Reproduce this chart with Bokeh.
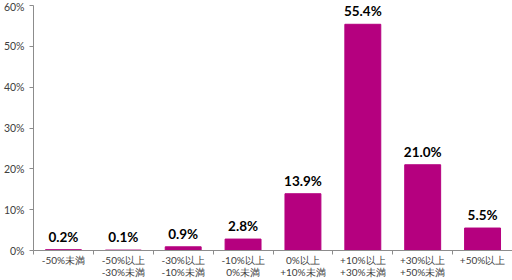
from bokeh.plotting import figure
from bokeh.models import Range1d, FixedTicker, ColumnDataSource
from bokeh.core.properties import value
from bokeh.embed import file_html
from bokeh.resources import INLINE

categories = ["-50%未満", "-50%以上\n-30%未満", "-30%以上\n-10%未満", "-10%以上\n0%未満",
              "0%以上\n+10%未満", "+10%以上\n+30%未満", "+30%以上\n+50%未満", "+50%以上"]
shares = [0.2, 0.1, 0.9, 2.8, 13.9, 55.4, 21.0, 5.5]
y_ticks = [0, 10, 20, 30, 40, 50, 60]

xs = [i + 0.5 for i in range(len(categories))]
src = ColumnDataSource(dict(x=xs, top=shares, label=[f"{v:.1f}%" for v in shares]))

FONT = "Lato"
BAR = "#B5007F"
AX = "#8C8C8C"

p = figure(width=512, height=280, output_backend="svg", toolbar_location=None,
           x_range=Range1d(0, len(categories)), y_range=Range1d(0, 60),
           min_border_left=32, min_border_right=0, min_border_top=5, min_border_bottom=30)
p.outline_line_color = None
p.grid.visible = False
p.background_fill_color = "white"
p.border_fill_color = "white"

p.vbar(x="x", top="top", width=0.6, bottom=0, source=src, fill_color=BAR,
       line_color=BAR, line_width=1)
p.text(x="x", y="top", text="label", source=src, y_offset=-5,
       text_align="center", text_baseline="bottom",
       text_font=value("Lato"), text_font_style="bold", text_font_size="13.5px", text_color="black")

xa = p.xaxis[0]
xa.ticker = FixedTicker(ticks=xs, minor_ticks=list(range(len(categories) + 1)))
xa.major_label_overrides = {x: c for x, c in zip(xs, categories)}
xa.major_tick_line_color = None
xa.major_tick_out = 0
xa.major_tick_in = 0
xa.minor_tick_out = 4
xa.minor_tick_in = 0
xa.minor_tick_line_color = AX
xa.axis_line_color = AX
xa.major_label_standoff = -1
xa.major_label_text_font = FONT
xa.major_label_text_font_size = "10px"
xa.major_label_text_line_height = 1.0
xa.major_label_text_color = "#404040"

ya = p.yaxis[0]
ya.ticker = FixedTicker(ticks=y_ticks)
ya.major_label_overrides = {t: f"{t}%" for t in y_ticks}
ya.minor_tick_line_color = None
ya.major_tick_out = 4
ya.major_tick_in = 0
ya.major_tick_line_color = AX
ya.axis_line_color = AX
ya.major_label_standoff = 5
ya.major_label_text_font = FONT
ya.major_label_text_font_size = "10.5px"
ya.major_label_text_color = "#404040"

open("out.html", "w").write(file_html(p, INLINE))
